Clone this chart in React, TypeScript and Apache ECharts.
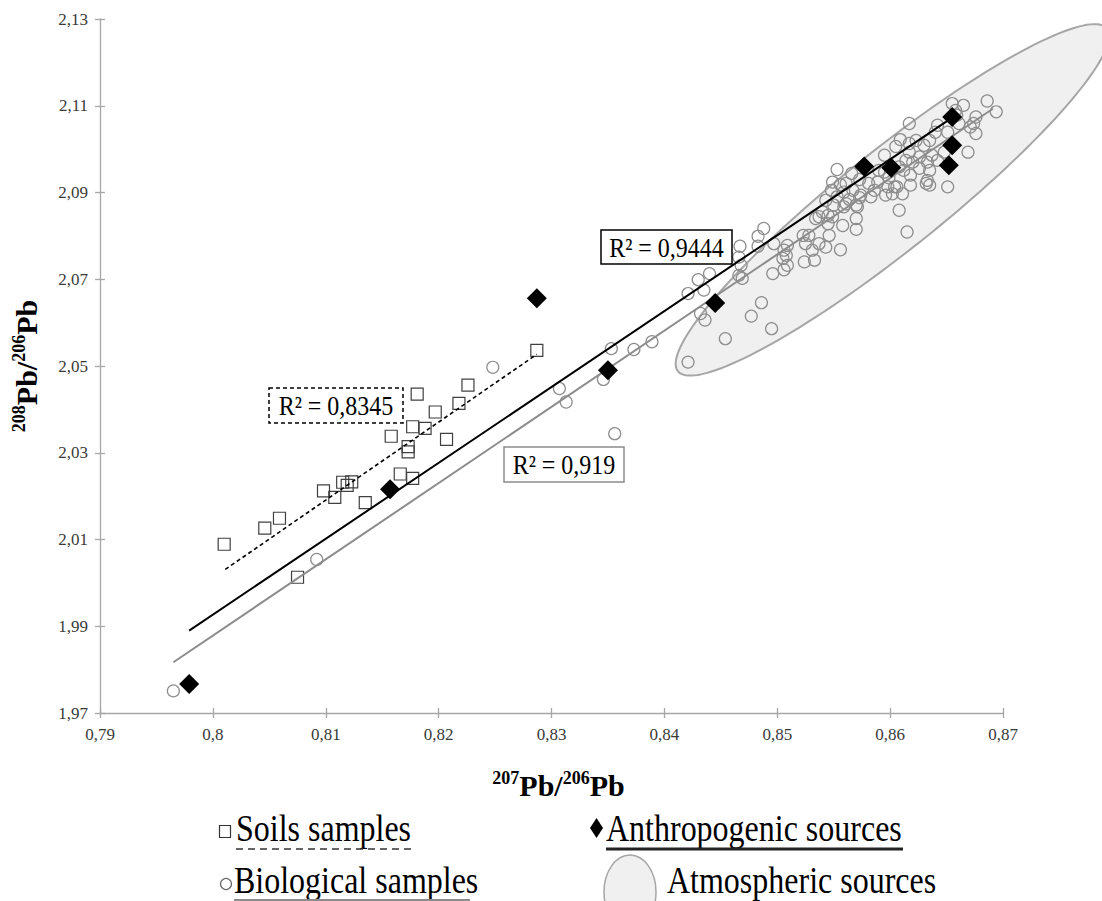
import React, { useEffect, useRef } from "react";
import * as echarts from "echarts";

const SERIF = "Liberation Serif";

// Axis ticks (Excel-style comma decimals)
const X_TICKS = [0.79, 0.8, 0.81, 0.82, 0.83, 0.84, 0.85, 0.86, 0.87];
const Y_TICKS = [1.97, 1.99, 2.01, 2.03, 2.05, 2.07, 2.09, 2.11, 2.13];

// 207Pb/206Pb , 208Pb/206Pb
const soilsSamples: number[][] = [
  [0.801, 2.0089], [0.8046, 2.0126], [0.8059, 2.0149], [0.8075, 2.0013],
  [0.8098, 2.0212], [0.8108, 2.0197], [0.8115, 2.0232], [0.8119, 2.0225],
  [0.8123, 2.0233], [0.8135, 2.0185], [0.8158, 2.0338], [0.8166, 2.0251],
  [0.8173, 2.0314], [0.8173, 2.0302], [0.8177, 2.0241], [0.8177, 2.036],
  [0.8181, 2.0435], [0.8188, 2.0356], [0.8197, 2.0394], [0.8207, 2.0331],
  [0.8218, 2.0414], [0.8226, 2.0456], [0.8287, 2.0536],
];

const anthropogenicSources: number[][] = [
  [0.7979, 1.9767], [0.8157, 2.0216], [0.8287, 2.0656], [0.835, 2.049],
  [0.8445, 2.0645], [0.8577, 2.096], [0.8601, 2.0957], [0.8652, 2.0963],
  [0.8655, 2.1009], [0.8655, 2.1074],
];

const biologicalSamples: number[][] = [
  [0.7965, 1.9751], [0.8092, 2.0054], [0.8248, 2.0497], [0.8307, 2.0448],
  [0.8313, 2.0417], [0.8346, 2.0469], [0.8353, 2.054], [0.8356, 2.0344],
  [0.8373, 2.0538], [0.8389, 2.0556], [0.8421, 2.0667], [0.843, 2.0699],
  [0.8421, 2.0509], [0.844, 2.0713], [0.8435, 2.0675], [0.8432, 2.0621],
  [0.8436, 2.0606], [0.8454, 2.0563], [0.8477, 2.0615], [0.8486, 2.0646],
  [0.8495, 2.0586], [0.8467, 2.0776], [0.8466, 2.0751], [0.8468, 2.0732],
  [0.8466, 2.0709], [0.8469, 2.0702], [0.8488, 2.0817], [0.8483, 2.0799],
  [0.8483, 2.0776], [0.8496, 2.0713], [0.8497, 2.0782], [0.8508, 2.0755],
  [0.8506, 2.0722], [0.8509, 2.0732], [0.8523, 2.0801], [0.8525, 2.0782],
  [0.8524, 2.074], [0.8533, 2.0744], [0.8537, 2.0782], [0.8534, 2.084],
  [0.8545, 2.0828], [0.8549, 2.0844], [0.8553, 2.0953], [0.8566, 2.0944],
  [0.8573, 2.093], [0.8549, 2.0924], [0.8556, 2.0918], [0.8548, 2.0905],
  [0.8559, 2.0901], [0.8553, 2.089], [0.8564, 2.0884], [0.8573, 2.0888],
  [0.857, 2.0871], [0.8561, 2.0874], [0.855, 2.0871], [0.854, 2.0855],
  [0.8545, 2.0847], [0.8537, 2.0844], [0.857, 2.084], [0.857, 2.0815],
  [0.8558, 2.0824], [0.8546, 2.0801], [0.8528, 2.0801], [0.8509, 2.0778],
  [0.8506, 2.0767], [0.8531, 2.0767], [0.8543, 2.0774], [0.8556, 2.0768],
  [0.8505, 2.0748], [0.859, 2.0951], [0.8595, 2.0986], [0.8612, 2.0951],
  [0.8626, 2.0956], [0.8604, 2.0913], [0.8596, 2.0894], [0.8618, 2.0917],
  [0.8611, 2.0897], [0.8586, 2.0905], [0.8581, 2.0921], [0.8632, 2.0921],
  [0.8608, 2.0859], [0.8615, 2.0809], [0.8686, 2.1111], [0.8694, 2.1086],
  [0.8665, 2.1101], [0.8655, 2.1105], [0.8661, 2.1059], [0.8674, 2.1059],
  [0.8676, 2.1036], [0.8669, 2.0993], [0.8617, 2.1059], [0.864, 2.1039],
  [0.8642, 2.1055], [0.8651, 2.1039], [0.8635, 2.102], [0.863, 2.1009],
  [0.8623, 2.102], [0.8617, 2.1013], [0.8609, 2.1022], [0.8605, 2.1006],
  [0.8617, 2.0993], [0.8626, 2.0982], [0.862, 2.097], [0.8614, 2.0974],
  [0.8608, 2.0959], [0.8633, 2.097], [0.8637, 2.0986], [0.8642, 2.0974],
  [0.8635, 2.0951], [0.8648, 2.0993], [0.8651, 2.0913], [0.8635, 2.0917],
  [0.8633, 2.0928], [0.8618, 2.094], [0.8599, 2.0934], [0.8595, 2.0947],
  [0.8589, 2.0924], [0.8606, 2.0913], [0.8598, 2.0913], [0.8602, 2.0897],
  [0.8583, 2.089], [0.8574, 2.0894], [0.8567, 2.0905], [0.8561, 2.0921],
  [0.8543, 2.0882], [0.8571, 2.0867], [0.8559, 2.0867], [0.8658, 2.1089],
  [0.8671, 2.1051], [0.8659, 2.1078], [0.8676, 2.1074],
];

// Linear trend lines (end points)
const soilsTrend: number[][] = [[0.8011, 2.0031], [0.8287, 2.0527]];
const anthropogenicTrend: number[][] = [[0.7979, 1.989], [0.8654, 2.1071]];
const biologicalTrend: number[][] = [[0.7965, 1.9817], [0.8691, 2.1093]];

const R2_TEXTS = ["R² = 0,8345", "R² = 0,919", "R² = 0,9444"];

// Atmospheric sources field: centre and end of the major axis
const ELLIPSE_CENTER = [0.8602, 2.0883];
const ELLIPSE_TIP = [0.8792, 2.1278];
const ELLIPSE_HALF_WIDTH_PX = 50;

const commaLabel = (v: number) => String(v).replace(".", ",");

export default function App() {
  const ref = useRef<HTMLDivElement>(null);

  useEffect(() => {
    if (!ref.current) return;
    const chart = echarts.init(ref.current, null, { renderer: "svg" });
    const axisGray = "#a6a6a6";
    const tickLabel = { fontFamily: SERIF, fontSize: 17, color: "#3a3a3a" };
    const titleRich = {
      b: { fontFamily: SERIF, fontSize: 30, fontWeight: "bold", color: "#000", lineHeight: 32 },
      sup: { fontFamily: SERIF, fontSize: 18, fontWeight: "bold", color: "#000", lineHeight: 18, verticalAlign: "top" },
    };

    const renderEllipse = (_params: any, api: any) => {
      const c = api.coord([api.value(0), api.value(1)]);
      const t = api.coord([api.value(2), api.value(3)]);
      const dx = t[0] - c[0];
      const dy = t[1] - c[1];
      const a = Math.hypot(dx, dy);
      const ux = dx / a, uy = dy / a;
      const vx = -uy, vy = ux;
      const b = ELLIPSE_HALF_WIDTH_PX;
      const pts: number[][] = [];
      const n = 160;
      for (let i = 0; i < n; i++) {
        const th = (i / n) * Math.PI * 2;
        const ca = Math.cos(th) * a, sb = Math.sin(th) * b;
        pts.push([c[0] + ca * ux + sb * vx, c[1] + ca * uy + sb * vy]);
      }
      return {
        type: "polygon",
        shape: { points: pts },
        style: { fill: "#f0f0f0", stroke: "#a6a6a6", lineWidth: 2 },
      };
    };

    const r2Box = (x: number, y: number, w: number, h: number, text: string, stroke: string, dash: number[] | null) => [
      {
        type: "rect",
        z: 20,
        shape: { x, y, width: w, height: h },
        style: { fill: "#fff", stroke, lineWidth: 1.5, lineDash: dash || undefined },
      },
      {
        type: "text",
        z: 21,
        x: x + w / 2,
        y: y + h / 2 + 1,
        scaleY: 1.1,
        style: { text, fontFamily: SERIF, fontSize: 24, fill: "#000", align: "center", verticalAlign: "middle" },
      },
    ];

    // Legend labels are set a little taller than the plain font
    const legendText = (x: number, y: number, text: string) => ({
      type: "text",
      z: 20,
      x,
      y,
      scaleY: 1.18,
      style: { text, fontFamily: SERIF, fontSize: 32, fill: "#000", align: "left", verticalAlign: "middle" },
    });

    const option: any = {
      animation: false,
      backgroundColor: "#fff",
      textStyle: { fontFamily: SERIF },
      grid: { left: 100, right: 99, top: 19, bottom: 188 },
      xAxis: [
        {
          type: "value",
          min: 0.79,
          max: 0.87,
          position: "bottom",
          axisLine: { show: true, onZero: false, lineStyle: { color: axisGray, width: 1.3 } },
          axisTick: { show: true, customValues: X_TICKS, length: 5, lineStyle: { color: axisGray, width: 1.3 } },
          axisLabel: { customValues: X_TICKS, formatter: commaLabel, margin: 13, ...tickLabel },
          splitLine: { show: false },
          name: "{sup|207}{b|Pb/}{sup|206}{b|Pb}",
          nameLocation: "middle",
          nameGap: 56,
          nameTextStyle: { rich: titleRich, padding: [0, 0, 0, 14] },
        },
        {
          type: "value",
          min: 0.79,
          max: 0.87,
          position: "bottom",
          axisLine: { show: false },
          axisTick: { show: true, inside: true, customValues: X_TICKS, length: 5, lineStyle: { color: axisGray, width: 1.3 } },
          axisLabel: { show: false },
          splitLine: { show: false },
        },
      ],
      yAxis: [
        {
          type: "value",
          min: 1.97,
          max: 2.13,
          position: "left",
          axisLine: { show: true, onZero: false, lineStyle: { color: axisGray, width: 1.3 } },
          axisTick: { show: true, customValues: Y_TICKS, length: 5, lineStyle: { color: axisGray, width: 1.3 } },
          axisLabel: { customValues: Y_TICKS, formatter: commaLabel, margin: 12, ...tickLabel },
          splitLine: { show: false },
          name: "{sup|208}{b|Pb/}{sup|206}{b|Pb}",
          nameLocation: "middle",
          nameRotate: 90,
          nameGap: 58,
          nameTextStyle: { rich: titleRich },
        },
        {
          type: "value",
          min: 1.97,
          max: 2.13,
          position: "left",
          axisLine: { show: false },
          axisTick: { show: true, inside: true, customValues: Y_TICKS, length: 5, lineStyle: { color: axisGray, width: 1.3 } },
          axisLabel: { show: false },
          splitLine: { show: false },
        },
      ],
      series: [
        {
          type: "custom",
          name: "Atmospheric sources",
          clip: false,
          silent: true,
          z: 1,
          data: [[...ELLIPSE_CENTER, ...ELLIPSE_TIP]],
          encode: { x: 0, y: 1 },
          renderItem: renderEllipse,
        },
        {
          type: "scatter",
          name: "Biological samples",
          data: biologicalSamples,
          symbol: "circle",
          symbolSize: 12,
          silent: true,
          z: 2,
          itemStyle: { color: "rgba(0,0,0,0)", borderColor: "#8c8c8c", borderWidth: 1.2, opacity: 1 },
        },
        {
          type: "scatter",
          name: "Soils samples",
          data: soilsSamples,
          symbol: "rect",
          symbolSize: 12,
          silent: true,
          z: 3,
          itemStyle: { color: "rgba(0,0,0,0)", borderColor: "#404040", borderWidth: 1.2, opacity: 1 },
        },
        {
          type: "line",
          data: biologicalTrend,
          symbol: "none",
          silent: true,
          z: 4,
          lineStyle: { color: "#8c8c8c", width: 2 },
        },
        {
          type: "line",
          data: anthropogenicTrend,
          symbol: "none",
          silent: true,
          z: 5,
          lineStyle: { color: "#000", width: 2 },
        },
        {
          type: "line",
          data: soilsTrend,
          symbol: "none",
          silent: true,
          z: 5,
          lineStyle: { color: "#000", width: 1.6, type: [4, 3] },
        },
        {
          type: "scatter",
          name: "Anthropogenic sources",
          data: anthropogenicSources,
          symbol: "diamond",
          symbolSize: 20,
          silent: true,
          z: 6,
          itemStyle: { color: "#000", opacity: 1 },
        },
      ],
      graphic: [
        ...r2Box(269, 388, 134, 35, R2_TEXTS[0], "#000", [4, 3]),
        ...r2Box(504, 447, 120, 35, R2_TEXTS[1], "#8c8c8c", null),
        ...r2Box(601, 230, 131, 34, R2_TEXTS[2], "#000", null),

        // Legend row 1
        { type: "rect", z: 20, shape: { x: 219.5, y: 825.5, width: 11, height: 12 }, style: { fill: "#fff", stroke: "#333", lineWidth: 1.2 } },
        legendText(236, 829, "Soils samples"),
        { type: "line", z: 20, shape: { x1: 236, y1: 849, x2: 413, y2: 849 }, style: { stroke: "#333", lineWidth: 1.5, lineDash: [7, 5] } },
        { type: "polygon", z: 20, shape: { points: [[596.5, 818], [603, 828], [596.5, 838], [590, 828]] }, style: { fill: "#000" } },
        legendText(606, 829, "Anthropogenic sources"),
        { type: "line", z: 20, shape: { x1: 606, y1: 849, x2: 903, y2: 849 }, style: { stroke: "#222", lineWidth: 3 } },

        // Legend row 2
        { type: "circle", z: 20, shape: { cx: 226, cy: 884, r: 5.5 }, style: { fill: "#fff", stroke: "#666", lineWidth: 1.2 } },
        legendText(234, 881, "Biological samples"),
        { type: "line", z: 20, shape: { x1: 234, y1: 900, x2: 470, y2: 900 }, style: { stroke: "#8c8c8c", lineWidth: 2 } },
        { type: "ellipse", z: 20, shape: { cx: 630, cy: 892, rx: 26, ry: 37 }, style: { fill: "#f0f0f0", stroke: "#a6a6a6", lineWidth: 1.5 } },
        legendText(667, 881, "Atmospheric sources"),
      ],
    };

    chart.setOption(option);
    return () => chart.dispose();
  }, []);

  return (
    <div
      ref={ref}
      style={{ position: "absolute", left: 0, top: 0, width: 1102, height: 901, background: "#fff" }}
    />
  );
}
